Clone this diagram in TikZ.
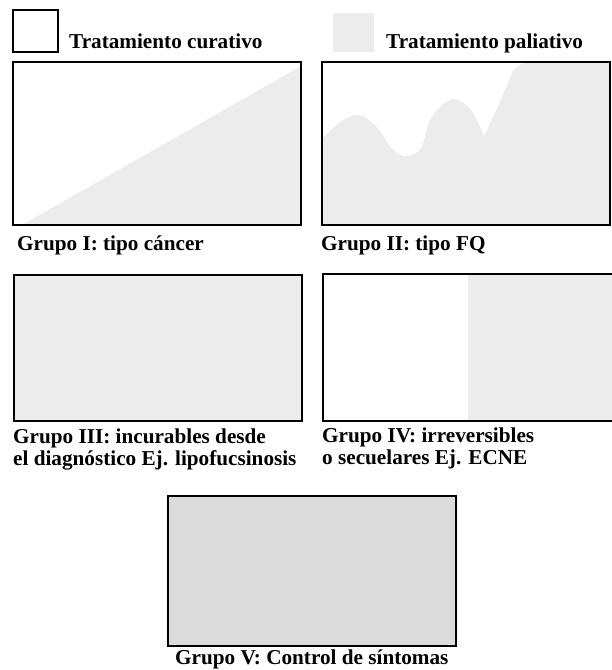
\documentclass[tikz,border=0pt]{standalone}
\usepackage{fontspec}
\setmainfont{Liberation Serif}
\definecolor{palgray}{RGB}{236,236,236}
\definecolor{symgray}{RGB}{219,219,219}
\tikzset{
    caja/.style={draw=black, line width=1.8pt},
    rotulo/.style={anchor=base west, inner sep=0pt, align=left,
        font=\bfseries\fontsize{21.2}{22}\selectfont}
}
\begin{document}
\begin{tikzpicture}[x=1pt, y=-1pt]
        \useasboundingbox (0, 0) rectangle (612, 670);

        \def\arriba{62}
        \def\abajo{225}
        \def\medarriba{275}
        \def\medabajo{421}

        % leyenda
        \draw[caja] (13, 10) rectangle (58, 52);
        \node[rotulo] (leg-cur) at (69, 48) {Tratamiento curativo};
        \fill[palgray] (333, 13) rectangle (374, 52);
        \node[rotulo] (leg-pal) at (386, 48) {Tratamiento paliativo};

        % grupo I
        \fill[palgray] (22, \abajo) -- (301, 66) -- (301, \abajo) -- cycle;
        \draw[caja] (13, \arriba) rectangle (301, \abajo);
        \node[rotulo] (lbl-i) at (17, 250) {Grupo I: tipo cáncer};

        % grupo II
        \fill[palgray] (322, \abajo) -- (322, 139)
            -- plot[smooth, tension=0.55] coordinates {(322, 139) (340, 122) (359, 115) (376, 126)
                (393, 150) (407, 156) (421, 148) (431, 118) (452, 99) (471, 110) (484, 136)}
            -- plot[smooth, tension=0.55] coordinates {(484, 136) (499, 104) (514, 70) (528, \arriba)}
            -- (610, \arriba) -- (610, \abajo) -- cycle;
        \draw[caja] (322, \arriba) rectangle (610, \abajo);
        \node[rotulo] (lbl-ii) at (321, 250) {Grupo II: tipo FQ};

        % grupo III
        \fill[palgray] (14, \medarriba) rectangle (302, \medabajo);
        \draw[caja] (14, \medarriba) rectangle (302, \medabajo);
        \node[rotulo] (lbl-iii) at (13, 465) {Grupo III: incurables desde \\ el diagnóstico Ej. lipofucsinosis};

        % grupo IV
        \fill[palgray] (468, 274) rectangle (612, \medabajo);
        \draw[caja] (612, 274) -- (323, 274) -- (323, \medabajo) -- (612, \medabajo);
        \node[rotulo] (lbl-iv) at (322, 464) {Grupo IV: irreversibles \\ o secuelares Ej. ECNE};

        % grupo V
        \draw[caja, fill=symgray] (168, 496) rectangle (456, 646);
        \node[rotulo] (lbl-v) at (175, 664.5) {Grupo V: Control de síntomas};
    \end{tikzpicture}
\end{document}
